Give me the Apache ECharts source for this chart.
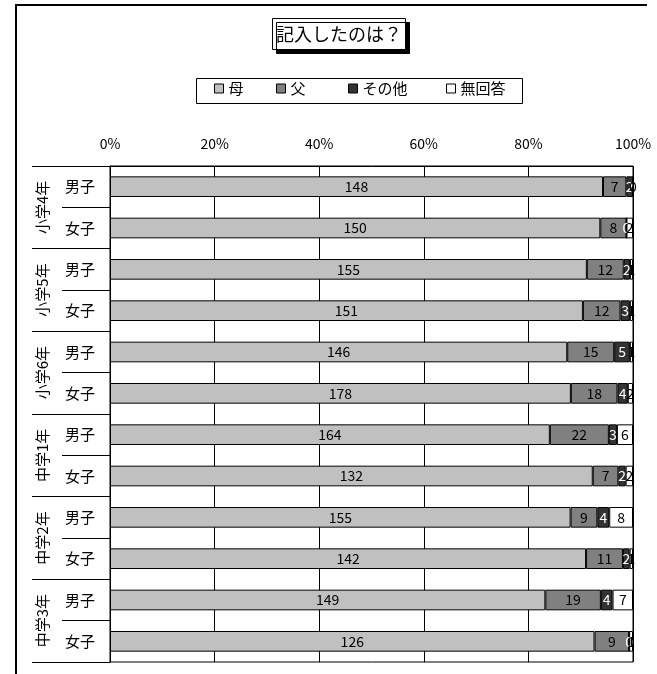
<!DOCTYPE html>
<html><head><meta charset="utf-8">
<script src="https://cdn.jsdelivr.net/npm/echarts@6/dist/echarts.min.js"></script>
<style>html,body{margin:0;padding:0;background:#fff}#c{width:657px;height:674px}</style>
</head><body><div id="c"></div>
<script>
const rowLabels = ['男子','女子','男子','女子','男子','女子','男子','女子','男子','女子','男子','女子'];
const groups = ['小学4年','小学5年','小学6年','中学1年','中学2年','中学3年'];
const seriesNames = ['母','父','その他','無回答'];
const mother = [148,150,155,151,146,178,164,132,155,142,149,126];
const father = [7,8,12,12,15,18,22,7,9,11,19,9];
const other  = [2,0,2,3,5,4,3,2,4,2,4,0];
const noAns  = [0,2,1,1,1,2,6,2,8,1,7,1];
const xTickValues = [0,20,40,60,80,100];

const FONT = '"Noto Sans CJK JP", sans-serif';
const raw = [mother, father, other, noAns];
const totals = mother.map((_, i) => raw.reduce((s, a) => s + a[i], 0));
const colors = ['#c0c0c0', '#808080', '#333333', '#ffffff'];
const labelColors = ['#000', '#000', '#fff', '#000'];
const legendLefts = [214, 276, 348, 446];

const series = raw.map((arr, k) => ({
  name: seriesNames[k],
  type: 'bar',
  stack: 'all',
  barWidth: '50%',
  yAxisIndex: 0,
  data: arr.map((v, i) => ({ value: v / totals[i] * 100, raw: v })),
  itemStyle: { color: colors[k], borderColor: '#000', borderWidth: 1 },
  label: {
    show: true, position: 'inside', color: labelColors[k],
    fontFamily: FONT, fontSize: 14,
    formatter: p => String(p.data.raw)
  }
}));

const legends = seriesNames.map((n, k) => ({
  left: legendLefts[k], top: 81,
  padding: 0,
  itemWidth: 9, itemHeight: 9,
  icon: 'rect',
  textStyle: { fontFamily: FONT, fontSize: 15, color: '#000' },
  data: [{ name: n, itemStyle: { color: colors[k], borderColor: '#000', borderWidth: 1 } }]
}));

const chart = echarts.init(document.getElementById('c'), null, { renderer: 'canvas' });
chart.setOption({
  animation: false,
  backgroundColor: '#fff',
  textStyle: { fontFamily: FONT },
  title: {
    text: '記入したのは？',
    left: 272, top: 18,
    padding: [7, 4, 7, 4],
    backgroundColor: '#fff',
    borderColor: '#000', borderWidth: 1,
    shadowColor: '#000', shadowBlur: 0, shadowOffsetX: 4, shadowOffsetY: 4,
    textStyle: { fontFamily: FONT, fontSize: 18, fontWeight: 'normal', color: '#000' }
  },
  legend: legends,
  graphic: [{
    type: 'polyline',
    shape: { points: [[16, 680], [16, 5], [647, 5]] },
    style: { stroke: '#000', lineWidth: 2, fill: null },
    silent: true
  }, {
    type: 'rect',
    shape: { x: 196.5, y: 78.5, width: 326, height: 25 },
    style: { stroke: '#000', lineWidth: 1, fill: null },
    silent: true, z: -1
  }],
  grid: { left: 110, right: 24, top: 166, bottom: 12, show: true, borderColor: '#000', borderWidth: 1 },
  xAxis: {
    type: 'value', position: 'top', min: 0, max: 100, interval: 20,
    axisLine: { show: true, lineStyle: { color: '#000' } },
    axisTick: { show: false },
    splitLine: { show: true, lineStyle: { color: '#000', width: 1 } },
    axisLabel: { color: '#000', fontFamily: FONT, fontSize: 14, margin: 15,
      formatter: v => xTickValues.includes(v) ? v + '%' : '' }
  },
  yAxis: [{
    type: 'category', inverse: true, data: rowLabels, position: 'left',
    axisLine: { show: true, lineStyle: { color: '#000' } },
    axisTick: { show: true, length: 48, lineStyle: { color: '#000' } },
    axisLabel: { color: '#000', fontFamily: FONT, fontSize: 15, margin: 15 }
  }, {
    type: 'category', inverse: true, data: groups, position: 'left',
    axisLine: { show: false },
    axisTick: { show: true, length: 78, lineStyle: { color: '#000' } },
    axisLabel: { color: '#000', fontFamily: FONT, fontSize: 15, rotate: 90, margin: 60 }
  }],
  series: series
});
</script></body></html>
